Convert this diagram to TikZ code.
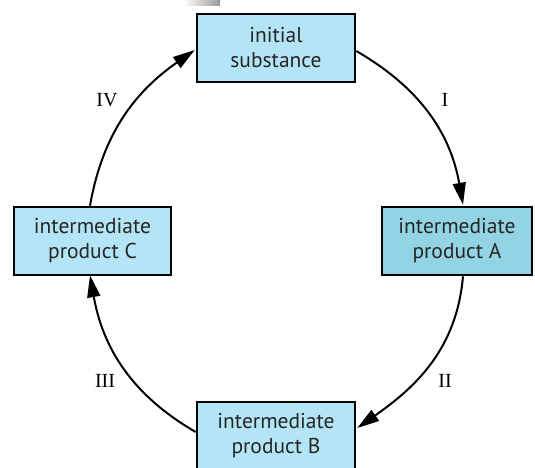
\documentclass[tikz,border=0pt]{standalone}
\usepackage{fontspec}
\setmainfont{Liberation Serif}
\newfontfamily\boxfont{PT Sans}
\usetikzlibrary{arrows.meta}
\definecolor{boxblue}{RGB}{180,229,246}
\definecolor{boxblueA}{RGB}{146,211,228}
\tikzset{
  stagebox/.style={draw=black, line width=2.5pt, fill=boxblue, minimum width=158pt, minimum height=68pt,
    align=center, inner sep=0pt, font=\boxfont\fontsize{21.5}{25}\selectfont, text=black!85},
  cyclearrow/.style={line width=2pt, -{Triangle[length=22pt,width=13pt]}},
  steplabel/.style={font=\fontsize{20}{22}\selectfont}
}
\begin{document}
\begin{tikzpicture}[x=1pt,y=-1pt]
\useasboundingbox (0,0) rectangle (535,467);
\shade[left color=white, right color=black!40] (183,0) rectangle (220,5);
\begin{scope}
\clip (0,0) rectangle (535,467);
\node[stagebox] (top) at (276,48) {initial\\substance};
\node[stagebox, fill=boxblueA, minimum width=150pt] (A) at (457,241) {intermediate\\product A};
\node[stagebox, minimum width=157pt] (C) at (92.5,241) {intermediate\\product C};
\node[stagebox] (B) at (276,436) {intermediate\\product B};
\end{scope}
\draw[cyclearrow] ([yshift=-3pt]top.east) to[out=-30,in=100] ([xshift=6pt,yshift=1pt]A.north);
\draw[cyclearrow] ([xshift=6pt]A.south) to[out=-95,in=35] ([xshift=1pt,yshift=8pt]B.east);
\draw[cyclearrow] ([yshift=4pt]B.west) to[out=150,in=-80] ([xshift=-2.5pt,yshift=1pt]C.south);
\draw[cyclearrow] ([xshift=-2.5pt]C.north) to[out=80,in=-145] ([xshift=-1pt,yshift=-2pt]top.west);
\node[steplabel] (l1) at (445,100) {I};
\node[steplabel] (l2) at (445,381) {II};
\node[steplabel] (l3) at (105,381) {III};
\node[steplabel] (l4) at (107,100) {IV};
\end{tikzpicture}
\end{document}
